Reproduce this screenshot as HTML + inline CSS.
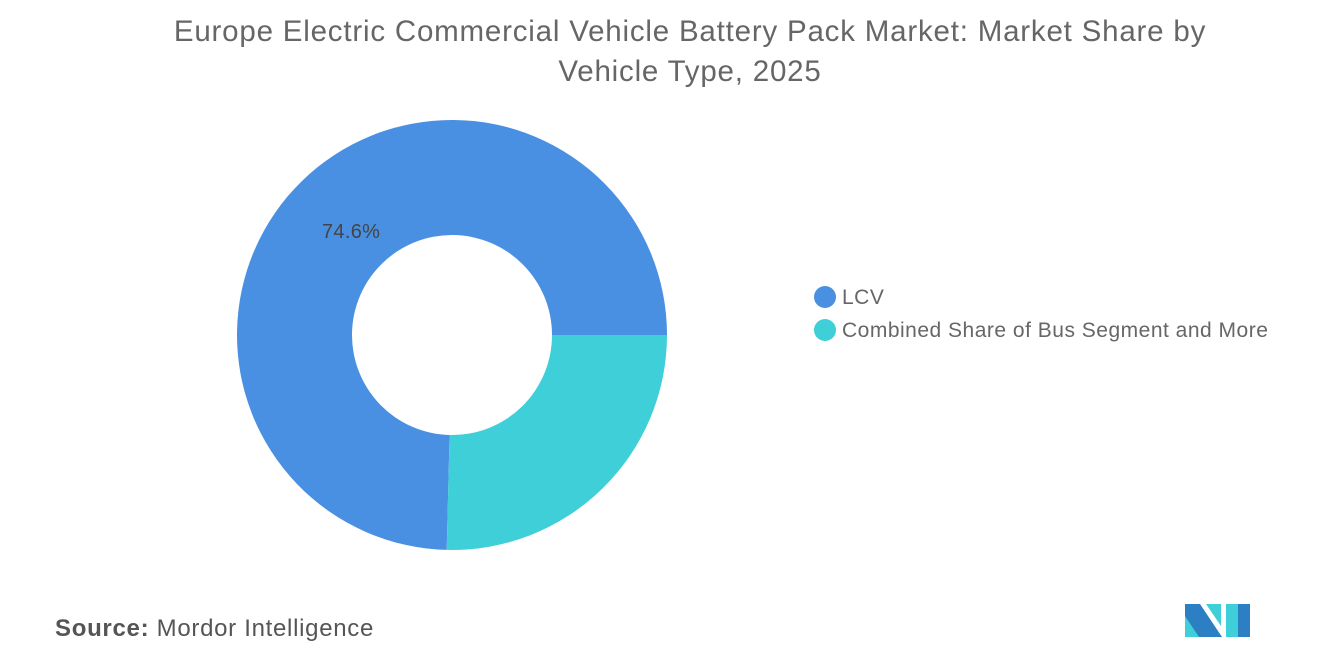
<!DOCTYPE html>
<html><head><meta charset="utf-8"><style>
body{margin:0;background:#fff;width:1320px;height:665px;overflow:hidden;font-family:"Liberation Sans",sans-serif;}
.t{position:absolute;left:0;width:1380px;text-align:center;top:12px;font-size:29.5px;letter-spacing:0.8px;line-height:40px;color:#666;}
</style></head><body>
<div class="t">Europe Electric Commercial Vehicle Battery Pack Market: Market Share by<br>Vehicle Type, 2025</div>
<svg width="1320" height="665" style="position:absolute;left:0;top:0">
<path d="M667,335 A215,215 0 1,0 446.7,549.9 L449.6,435 A100,100 0 1,1 552,335 Z" fill="#4a90e2"/>
<path d="M667,335 A215,215 0 0,1 446.7,549.9 L449.6,435 A100,100 0 0,0 552,335 Z" fill="#3ecfd9"/>
<text x="322" y="238" font-size="20" letter-spacing="0.3" fill="#444">74.6%</text>
<circle cx="825" cy="297" r="11" fill="#4a90e2"/>
<text x="842" y="304" font-size="21" letter-spacing="0.5" fill="#666">LCV</text>
<circle cx="825" cy="330" r="11" fill="#3ecfd9"/>
<text x="842" y="337" font-size="21" letter-spacing="0.5" fill="#666">Combined Share of Bus Segment and More</text>
<text x="55" y="636" font-size="24" letter-spacing="0.7" fill="#555"><tspan font-weight="bold">Source:</tspan> Mordor Intelligence</text>
<polygon points="1185,604 1200,604 1222,637 1185,637" fill="#2b7fc2"/>
<polygon points="1185,616 1199,637 1185,637" fill="#3ecfd9"/>
<polygon points="1206,604 1221,604 1221,626" fill="#3ecfd9"/>
<polygon points="1226,604 1238,604 1238,637 1226,637" fill="#3ecfd9"/>
<polygon points="1238,604 1250,604 1250,637 1238,637" fill="#2b7fc2"/>
</svg>
</body></html>
